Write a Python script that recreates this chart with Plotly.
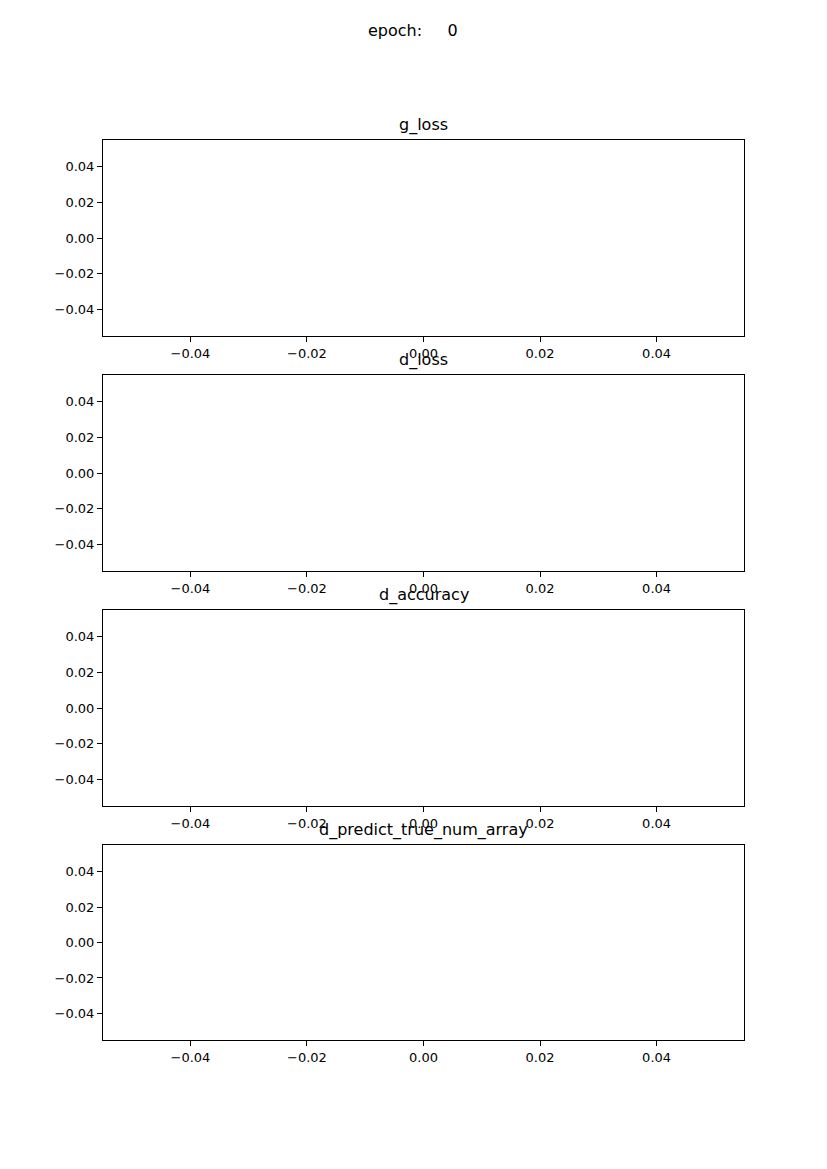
import plotly.graph_objects as go

# Empty history, as at epoch 0
epoch = 0
g_loss = []
d_loss = []
d_accuracy = []
d_predict_true_num_array = []

panel_names = ["g_loss", "d_loss", "d_accuracy", "d_predict_true_num_array"]
panel_data = [g_loss, d_loss, d_accuracy, d_predict_true_num_array]
tick_vals = [-0.04, -0.02, 0.0, 0.02, 0.04]
tick_text = ["\u22120.04", "\u22120.02", "0.00", "0.02", "0.04"]

W, H = 827, 1169
off = 8  # page margin of the html body
x_dom = [(103 - off) / W, (744 - off) / W]
y_px = [(140, 336), (375, 571), (610, 806), (845, 1040)]

fig = go.Figure()
annotations = []
for i, (name, vals) in enumerate(zip(panel_names, panel_data)):
    n = i + 1
    fig.add_trace(go.Scatter(x=list(range(len(vals))), y=vals, mode="lines",
                             line=dict(color="#1f77b4"), xaxis=f"x{n}", yaxis=f"y{n}",
                             showlegend=False))
    top, bot = y_px[i]
    top, bot = top - off, bot - off
    ax = dict(range=[-0.055, 0.055], tickvals=tick_vals, ticktext=tick_text,
              showgrid=False, zeroline=False, showline=True, linecolor="black",
              linewidth=1, mirror=True, ticks="outside", ticklen=5,
              tickcolor="black", tickfont=dict(size=13, color="black"))
    fig.update_layout({
        f"xaxis{n}": dict(ax, domain=x_dom, anchor=f"y{n}"),
        f"yaxis{n}": dict(ax, domain=[1 - bot / H, 1 - top / H], anchor=f"x{n}"),
    })
    annotations.append(dict(text=name, x=(x_dom[0] + x_dom[1]) / 2, y=1 - top / H,
                            xref="paper", yref="paper", yanchor="bottom", yshift=3,
                            showarrow=False, font=dict(size=16, color="black")))

annotations.append(dict(text=f"epoch:     {epoch}", x=(413 - off) / W, y=1 - (31 - off) / H,
                        xref="paper", yref="paper", yanchor="middle",
                        showarrow=False, font=dict(size=16, color="black")))

fig.update_layout(width=W, height=H, margin=dict(l=0, r=0, t=0, b=0),
                  paper_bgcolor="white", plot_bgcolor="white",
                  font=dict(family="DejaVu Sans"), annotations=annotations)

fig.write_html("out.html")
